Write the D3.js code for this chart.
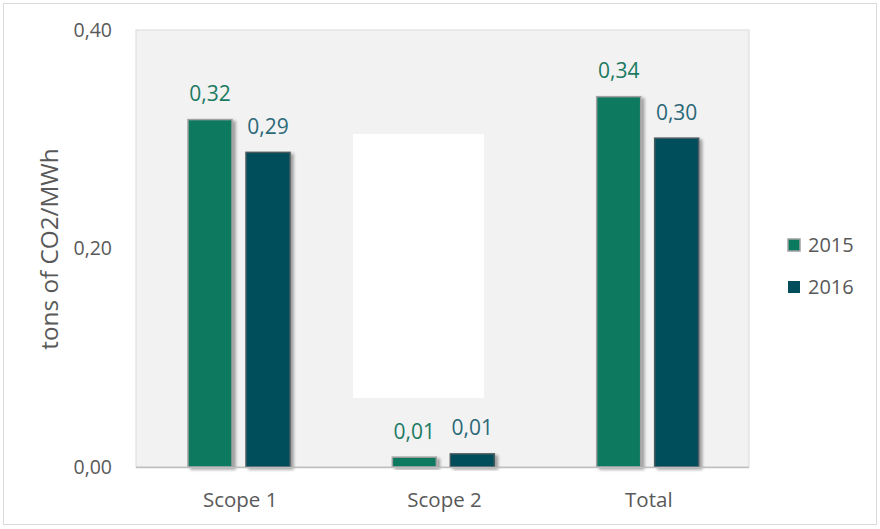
<!DOCTYPE html>
<html><head><meta charset="utf-8">
<script src="https://cdn.jsdelivr.net/npm/d3@7"></script>
<style>
html,body{margin:0;padding:0;background:#fff;}
svg{display:block;font-family:"Open Sans","Noto Sans",sans-serif;}
</style></head>
<body>
<svg id="chart" width="880" height="529"></svg>
<script>
const categories = ["Scope 1", "Scope 2", "Total"];
const seriesNames = ["2015", "2016"];
const values2015 = [0.318, 0.009, 0.339];
const values2016 = [0.288, 0.012, 0.301];
const labels2015 = ["0,32", "0,01", "0,34"];
const labels2016 = ["0,29", "0,01", "0,30"];
const yTicks = [0, 0.2, 0.4];
const yTickLabels = ["0,00", "0,20", "0,40"];
const colors = {"2015": "#0a7a5f", "2016": "#024d5c"};
const labelColors = {"2015": "#1b7a62", "2016": "#2b6878"};
const strokeColors = {"2015": "#a0a0a0", "2016": "#4a5a5e"};

const svg = d3.select("#chart");
const plot = {left: 136, right: 749, top: 30, bottom: 467};

const defs = svg.append("defs");
const f = defs.append("filter").attr("id","shadow").attr("x","-20%").attr("y","-20%").attr("width","150%").attr("height","150%");
f.append("feDropShadow").attr("dx",3).attr("dy",2).attr("stdDeviation",1.6).attr("flood-color","#000").attr("flood-opacity",0.35);

// outer border
svg.append("rect").attr("x",3.5).attr("y",3.5).attr("width",873).attr("height",521)
  .attr("fill","#fff").attr("stroke","#d9d9d9").attr("stroke-width",1);

// plot background
svg.append("rect").attr("x",plot.left).attr("y",plot.top)
  .attr("width",plot.right-plot.left).attr("height",plot.bottom-plot.top)
  .attr("fill","#f2f2f2").attr("stroke","#d9d9d9").attr("stroke-width",1);

const x = d3.scaleBand().domain(categories).range([plot.left, plot.right]).padding(0);
const xSub = d3.scaleBand().domain(seriesNames).range([52, 154]).paddingInner(0.241).paddingOuter(0);
const y = d3.scaleLinear().domain([0, 0.4]).range([plot.bottom, plot.top]);

// white box artifact
svg.append("rect").attr("x",353).attr("y",134).attr("width",131).attr("height",264).attr("fill","#fff");

const data = [];
categories.forEach((c,i)=>{
  data.push({cat:c, s:"2015", v:values2015[i], label:labels2015[i]});
  data.push({cat:c, s:"2016", v:values2016[i], label:labels2016[i]});
});

svg.append("g").selectAll("rect").data(data).join("rect")
  .attr("x", d => x(d.cat) + xSub(d.s))
  .attr("y", d => y(d.v))
  .attr("width", xSub.bandwidth())
  .attr("height", d => y(0) - y(d.v))
  .attr("fill", d => colors[d.s])
  .attr("stroke", d => strokeColors[d.s])
  .attr("stroke-width", 1.5)
  .attr("filter","url(#shadow)");

// x axis line
svg.append("line").attr("x1",plot.left).attr("x2",plot.right).attr("y1",plot.bottom+0.5).attr("y2",plot.bottom+0.5)
  .attr("stroke","#bfbfbf").attr("stroke-width",1.5);

// data labels
svg.append("g").selectAll("text").data(data).join("text")
  .attr("x", d => x(d.cat) + xSub(d.s) + xSub.bandwidth()/2)
  .attr("y", d => y(d.v) - 18.5)
  .attr("text-anchor","middle")
  .attr("font-size",21)
  .attr("fill", d => labelColors[d.s])
  .text(d => d.label);

// y tick labels
svg.append("g").selectAll("text").data(yTicks).join("text")
  .attr("x", 112)
  .attr("y", d => y(d) + 6.5)
  .attr("text-anchor","end")
  .attr("font-size",19.5)
  .attr("fill","#595959")
  .text((d,i) => yTickLabels[i]);

// x labels
svg.append("g").selectAll("text").data(categories).join("text")
  .attr("x", d => x(d) + x.bandwidth()/2 + 2)
  .attr("y", 507)
  .attr("text-anchor","middle")
  .attr("font-size",20.5)
  .attr("fill","#595959")
  .text(d => d);

// axis title
svg.append("text")
  .attr("transform","translate(57.5,249) rotate(-90)")
  .attr("text-anchor","middle")
  .attr("font-size",24.3)
  .attr("fill","#595959")
  .text("tons of CO2/MWh");

// legend
const leg = svg.append("g").selectAll("g").data(seriesNames).join("g")
  .attr("transform",(d,i)=>`translate(788,${239 + i*42})`);
leg.append("rect").attr("width",12).attr("height",12)
  .attr("fill",d=>colors[d]).attr("stroke",d=>d==="2015"?"#a0a0a0":"none").attr("stroke-width",1.5);
leg.append("text").attr("x",20).attr("y",12.7).attr("font-size",20).attr("fill","#595959").text(d=>d);
</script>
</body></html>
